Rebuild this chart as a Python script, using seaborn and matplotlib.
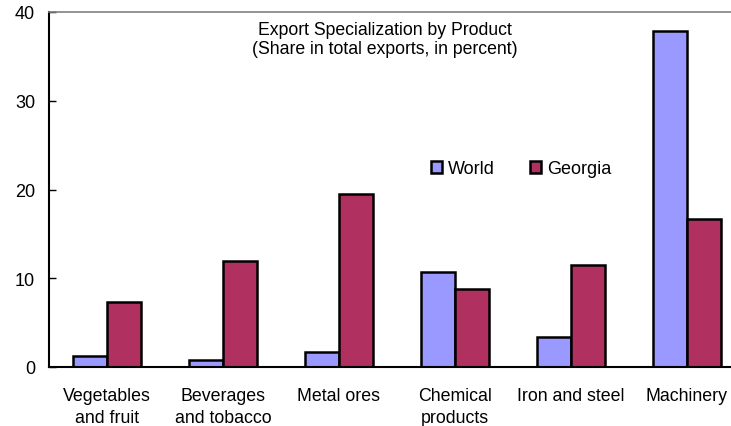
import matplotlib
matplotlib.use("Agg")
import matplotlib.pyplot as plt
import numpy as np
import pandas as pd
import seaborn as sns
from matplotlib.patches import Patch

categories = [
    "Vegetables\nand fruit",
    "Beverages\nand tobacco",
    "Metal ores",
    "Chemical\nproducts",
    "Iron and steel",
    "Machinery",
]
world = [1.2, 0.8, 1.7, 10.7, 3.4, 37.9]
georgia = [7.3, 11.9, 19.5, 8.8, 11.5, 16.7]
series = ["World", "Georgia"]
colors = {"World": "#9999FF", "Georgia": "#B03060"}

df = pd.DataFrame(
    {
        "category": categories * 2,
        "value": world + georgia,
        "series": ["World"] * len(categories) + ["Georgia"] * len(categories),
    }
)

sns.set_theme(style="white")
plt.rcParams["font.family"] = ["Liberation Sans", "DejaVu Sans"]
plt.rcParams["text.color"] = "black"

fig = plt.figure(figsize=(7.31, 4.27), dpi=100)
# plot area runs a little past the right edge, as in the source
ax = fig.add_axes([49 / 731, 1 - 368 / 427, 696 / 731, 355 / 427])

sns.barplot(
    data=df,
    x="category",
    y="value",
    hue="series",
    hue_order=series,
    palette=colors,
    saturation=1,
    width=0.58,
    edgecolor="black",
    linewidth=1.8,
    ax=ax,
    legend=False,
)

ax.set_xlim(-0.5, len(categories) - 0.5)
ax.set_ylim(0, 40)
ax.set_yticks([0, 10, 20, 30, 40])
ax.set_xlabel("")
ax.set_ylabel("")

ax.tick_params(axis="x", which="major", length=0, pad=14.5, labelsize=12.8, labelcolor="black")
ax.set_xticks(np.arange(len(categories) + 1) - 0.5, minor=True)
ax.tick_params(axis="x", which="minor", direction="in", length=5, width=1, color="black")
ax.tick_params(axis="y", direction="in", length=5, width=1, color="black",
               labelsize=13, labelcolor="black", pad=10, left=True)
for lab in ax.get_xticklabels():
    lab.set_linespacing(1.35)

for side in ["left", "bottom"]:
    ax.spines[side].set_color("black")
    ax.spines[side].set_linewidth(1.5)
ax.spines["top"].set_color("#808080")
ax.spines["top"].set_linewidth(1.2)
ax.spines["right"].set_visible(False)

fig.text(385 / 731, 1 - 40 / 427,
         "Export Specialization by Product\n(Share in total exports, in percent)",
         ha="center", va="center", fontsize=12.7, linespacing=1.2)

handles = [Patch(facecolor=colors[s], edgecolor="black", linewidth=1.8, label=s) for s in series]
ax.legend(handles=handles, loc="center", bbox_to_anchor=(521 / 731, 1 - 170 / 427),
          bbox_transform=fig.transFigure, ncol=2, frameon=False, fontsize=13,
          handlelength=0.6, handleheight=0.6, handletextpad=0.35, columnspacing=1.95)

fig.savefig("out.png", dpi=100)
